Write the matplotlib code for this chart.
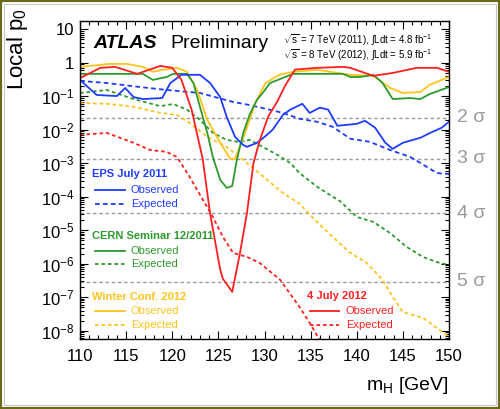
import numpy as np
import matplotlib
matplotlib.use('Agg')
import matplotlib.pyplot as plt
from matplotlib.ticker import LogLocator, MultipleLocator, FuncFormatter, NullFormatter
from matplotlib.patches import Rectangle

plt.rcParams['font.family'] = ['Liberation Sans', 'DejaVu Sans']
plt.rcParams['mathtext.fontset'] = 'custom'
plt.rcParams['mathtext.rm'] = 'Liberation Sans'
plt.rcParams['mathtext.it'] = 'Liberation Sans:italic'
plt.rcParams['mathtext.bf'] = 'Liberation Sans:bold'
plt.rcParams['mathtext.default'] = 'regular'

# EPS July 2011 (blue)
eps_obs_m = [110.0, 111.8, 114.0, 114.9, 115.8, 116.8, 118.9, 119.8, 121.0, 123.0,
             124.1, 125.2, 125.9, 126.8, 127.7, 128.1, 129.2, 130.1, 130.9, 132.0,
             132.8, 134.1, 134.9, 136.0, 136.9, 137.9, 140.0, 140.9, 142.0, 143.1,
             143.9, 145.0, 146.9, 148.2, 149.2, 150.0]
eps_obs_p = [0.31, 0.110, 0.102, 0.178, 0.095, 0.083, 0.089, 0.25, 0.44, 0.44,
             0.25, 0.095, 0.0245, 6.2e-3, 3.5e-3, 3.1e-3, 4.1e-3, 6.5e-3, 0.0102, 0.028,
             0.040, 0.060, 0.032, 0.046, 0.040, 0.0132, 0.0151, 0.0186, 0.0115, 4.1e-3,
             2.7e-3, 4.1e-3, 5.8e-3, 8.7e-3, 0.0115, 0.0174]
eps_exp_m = [110.0, 112.9, 116.5, 119.4, 123.0, 126.6, 128.4, 132.0, 133.8, 135.7,
             137.4, 139.3, 141.4, 143.6, 145.8, 147.6, 148.7, 150.0]
eps_exp_p = [0.29, 0.25, 0.19, 0.155, 0.126, 0.068, 0.055, 0.032, 0.0214, 0.0174,
             0.0123, 5.4e-3, 4.4e-3, 2.5e-3, 1.55e-3, 7.8e-4, 5.1e-4, 4.8e-4]

# CERN Seminar 12/2011 (green)
cern_obs_m = [110.0, 116.8, 117.9, 119.4, 120.1, 121.6, 122.3, 123.0, 123.8, 124.4,
              125.2, 125.9, 126.5, 127.0, 127.7, 128.4, 129.2, 129.8, 130.6, 131.7,
              133.1, 138.5, 139.3, 140.4, 141.8, 142.8, 143.9, 145.8, 146.9, 147.9,
              150.0]
cern_obs_p = [0.47, 0.47, 0.31, 0.38, 0.47, 0.47, 0.25, 0.049, 8.1e-3, 1.55e-3,
              3.2e-4, 1.85e-4, 2.1e-4, 1.26e-3, 8.1e-3, 0.029, 0.080, 0.126, 0.25, 0.33,
              0.47, 0.47, 0.38, 0.38, 0.44, 0.25, 0.083, 0.089, 0.083, 0.117,
              0.19]
cern_exp_m = [110.0, 112.9, 115.8, 118.7, 120.1, 121.6, 123.0, 124.4, 125.9, 127.3,
              128.4, 129.8, 131.4, 132.8, 133.8, 135.7, 137.4, 138.2, 140.0, 141.8,
              143.6, 145.4, 147.2, 148.7, 150.0]
cern_exp_p = [0.126, 0.155, 0.083, 0.051, 0.059, 0.040, 0.020, 8.1e-3, 5.0e-3, 4.3e-3,
              5.0e-3, 3.1e-3, 1.78e-3, 1.02e-3, 5.1e-4, 2.0e-4, 1.0e-4, 7.4e-5, 2.5e-5, 1.78e-5,
              8.3e-6, 3.2e-6, 1.58e-6, 1.12e-6, 9.1e-7]

# Winter Conf. 2012 (yellow)
win_obs_m = [110.0, 113.2, 115.1, 116.8, 117.9, 119.0, 120.5, 121.6, 122.7, 123.8,
             125.2, 126.3, 126.8, 127.9, 129.0, 130.1, 131.6, 133.1, 135.7, 139.3,
             141.8, 143.6, 145.0, 146.9, 147.9, 150.0]
win_obs_p = [0.76, 0.93, 0.93, 0.76, 0.54, 0.62, 0.71, 0.54, 0.155, 0.020,
             4.1e-3, 1.35e-3, 1.35e-3, 8.1e-3, 0.063, 0.25, 0.44, 0.54, 0.62, 0.44,
             0.41, 0.18, 0.126, 0.135, 0.22, 0.38]
win_exp_m = [110.0, 112.9, 115.8, 118.7, 120.5, 121.9, 123.8, 125.9, 128.1, 130.3,
             132.0, 133.8, 135.5, 137.4, 139.2, 141.1, 142.8, 143.9, 145.0, 147.2,
             150.0]
win_exp_p = [0.063, 0.060, 0.049, 0.032, 0.028, 0.016, 6.2e-3, 3.1e-3, 1.02e-3, 3.2e-4,
             1.3e-4, 6.2e-5, 2.0e-5, 6.3e-6, 2.2e-6, 1.05e-6, 3.3e-7, 1.02e-7, 3.6e-8, 2.4e-8,
             6.5e-9]

# 4 July 2012 (red)
jul_obs_m = [110.0, 112.2, 113.8, 116.2, 118.7, 120.0, 121.0, 122.1, 123.3, 124.1,
             125.2, 125.5, 126.5, 127.3, 128.1, 128.8, 129.5, 130.4, 131.4, 132.2,
             133.3, 135.7, 138.5, 139.3, 141.8, 143.9, 146.5, 148.7, 150.0]
jul_obs_p = [0.35, 0.71, 0.76, 0.47, 0.81, 0.71, 0.31, 0.040, 1.35e-3, 3.2e-5,
             6.6e-7, 3.5e-7, 1.45e-7, 1.8e-6, 3.3e-5, 1.0e-3, 5.0e-3, 0.025, 0.071, 0.20,
             0.63, 0.71, 0.76, 0.71, 0.41, 0.50, 0.71, 0.71, 0.54]
jul_exp_m = [110.0, 112.9, 115.8, 117.6, 119.4, 120.5, 121.9, 123.0, 124.4, 125.5,
             126.6, 128.1, 129.5, 131.7, 133.8, 134.9, 136.0, 137.0]
jul_exp_p = [7.1e-3, 8.1e-3, 4.1e-3, 2.5e-3, 2.2e-3, 1.55e-3, 3.9e-4, 1.15e-4, 2.5e-5, 6.3e-6,
             2.1e-6, 1.6e-6, 1.05e-6, 3.3e-7, 5.1e-8, 1.7e-8, 5.2e-9, 2.0e-9]

sigma_labels = ['2 σ', '3 σ', '4 σ', '5 σ']
sigma_p = [0.0228, 1.35e-3, 3.17e-5, 2.87e-7]

BLUE = '#1e3cff'
GREEN = '#2d9a2d'
YELLOW = '#ffc41c'
RED = '#ff1f1f'
GREY = '#9a9a9a'

fig = plt.figure(figsize=(5.0, 4.09), dpi=100)
ax = fig.add_axes([0.16, 0.171, 0.738, 0.778])

lw = 1.3
dash = (0, (2.6, 1.8))
dot = (0, (2, 1.6))

# sigma lines
for lab, p in zip(sigma_labels, sigma_p):
    ax.axhline(p, color=GREY, lw=1.0, ls=(0, (2.5, 2)), zorder=1)
    ax.text(1.022, p, lab, transform=ax.get_yaxis_transform(), color=GREY,
            fontsize=14, va='center', ha='left')

ax.plot(eps_exp_m, eps_exp_p, color=BLUE, lw=lw, ls=dash)
ax.plot(cern_exp_m, cern_exp_p, color=GREEN, lw=lw, ls=dot)
ax.plot(win_exp_m, win_exp_p, color=YELLOW, lw=lw, ls=dot)
ax.plot(jul_exp_m, jul_exp_p, color=RED, lw=lw, ls=dot)
ax.plot(win_obs_m, win_obs_p, color=YELLOW, lw=lw)
ax.plot(cern_obs_m, cern_obs_p, color=GREEN, lw=lw)
ax.plot(eps_obs_m, eps_obs_p, color=BLUE, lw=lw)
ax.plot(jul_obs_m, jul_obs_p, color=RED, lw=lw)

ax.set_yscale('log')
ax.set_xlim(110, 150)
ax.set_ylim(10 ** -8.25, 10 ** 1.255)

ax.xaxis.set_major_locator(MultipleLocator(5))
ax.xaxis.set_minor_locator(MultipleLocator(1))
ax.yaxis.set_major_locator(LogLocator(base=10, numticks=30))
ax.yaxis.set_minor_locator(LogLocator(base=10, subs=np.arange(2, 10), numticks=30))
ax.yaxis.set_minor_formatter(NullFormatter())


def fmt_pow(v, pos):
    e = int(round(np.log10(v)))
    if e == 1:
        return '10'
    if e == 0:
        return '1'
    return r'$10^{%d}$' % e


ax.yaxis.set_major_formatter(FuncFormatter(fmt_pow))
ax.tick_params(which='both', direction='in', top=True, right=True, width=0.8)
ax.tick_params(which='major', length=6, labelsize=12)
ax.tick_params(which='minor', length=3)
ax.tick_params(axis='x', pad=7)
ax.tick_params(axis='y', pad=4)
for s in ax.spines.values():
    s.set_linewidth(1.0)

# labels
fig.text(18 / 500, 1 - 8 / 409, 'Local p$_0$', rotation=90, ha='center', va='top',
         fontsize=16)
fig.text(449 / 500, 1 - 386 / 409, 'm$_H$ [GeV]', ha='right', va='center', fontsize=14)

ax.text(0.035, 0.93, 'ATLAS', transform=ax.transAxes, fontsize=14,
        fontweight='bold', fontstyle='italic', va='center')
ax.text(0.245, 0.93, 'Preliminary', transform=ax.transAxes, fontsize=14, va='center')
ax.text(0.55, 0.938, r'$\sqrt{s}$ = 7 TeV (2011), $\int$Ldt = 4.8 fb$^{-1}$',
        transform=ax.transAxes, fontsize=7, va='center')
ax.text(0.55, 0.893, r'$\sqrt{s}$ = 8 TeV (2012), $\int$Ldt = 5.9 fb$^{-1}$',
        transform=ax.transAxes, fontsize=7, va='center')

# hand made legend blocks
blocks = [
    ('EPS July 2011', BLUE, dash, 0.033, 0.519, 0.469, 0.425),
    ('CERN Seminar 12/2011', GREEN, dot, 0.033, 0.324, 0.277, 0.236),
    ('Winter Conf. 2012', YELLOW, dot, 0.033, 0.132, 0.088, 0.044),
    ('4 July 2012', RED, dot, 0.615, 0.135, 0.088, 0.044),
]
for title, col, ls, x0, yt, yo, ye in blocks:
    ax.text(x0, yt, title, transform=ax.transAxes, color=col, fontsize=8,
            fontweight='bold', va='center')
    ax.plot([x0 + 0.008, x0 + 0.088], [yo, yo], transform=ax.transAxes, color=col,
            lw=lw)
    ax.plot([x0 + 0.008, x0 + 0.088], [ye, ye], transform=ax.transAxes, color=col,
            lw=lw, ls=ls)
    ax.text(x0 + 0.105, yo, 'Observed', transform=ax.transAxes, color=col, fontsize=8,
            va='center')
    ax.text(x0 + 0.105, ye, 'Expected', transform=ax.transAxes, color=col, fontsize=8,
            va='center')

# slide frame
fig.patches.append(Rectangle((0, 0), 1, 1, transform=fig.transFigure, fill=False,
                             edgecolor='#6b6a1a', lw=3.0))
fig.patches.append(Rectangle((0.008, 0.01), 0.984, 0.98, transform=fig.transFigure,
                             fill=False, edgecolor='#c8c8c8', lw=0.8))

fig.savefig('out.png', dpi=100)
